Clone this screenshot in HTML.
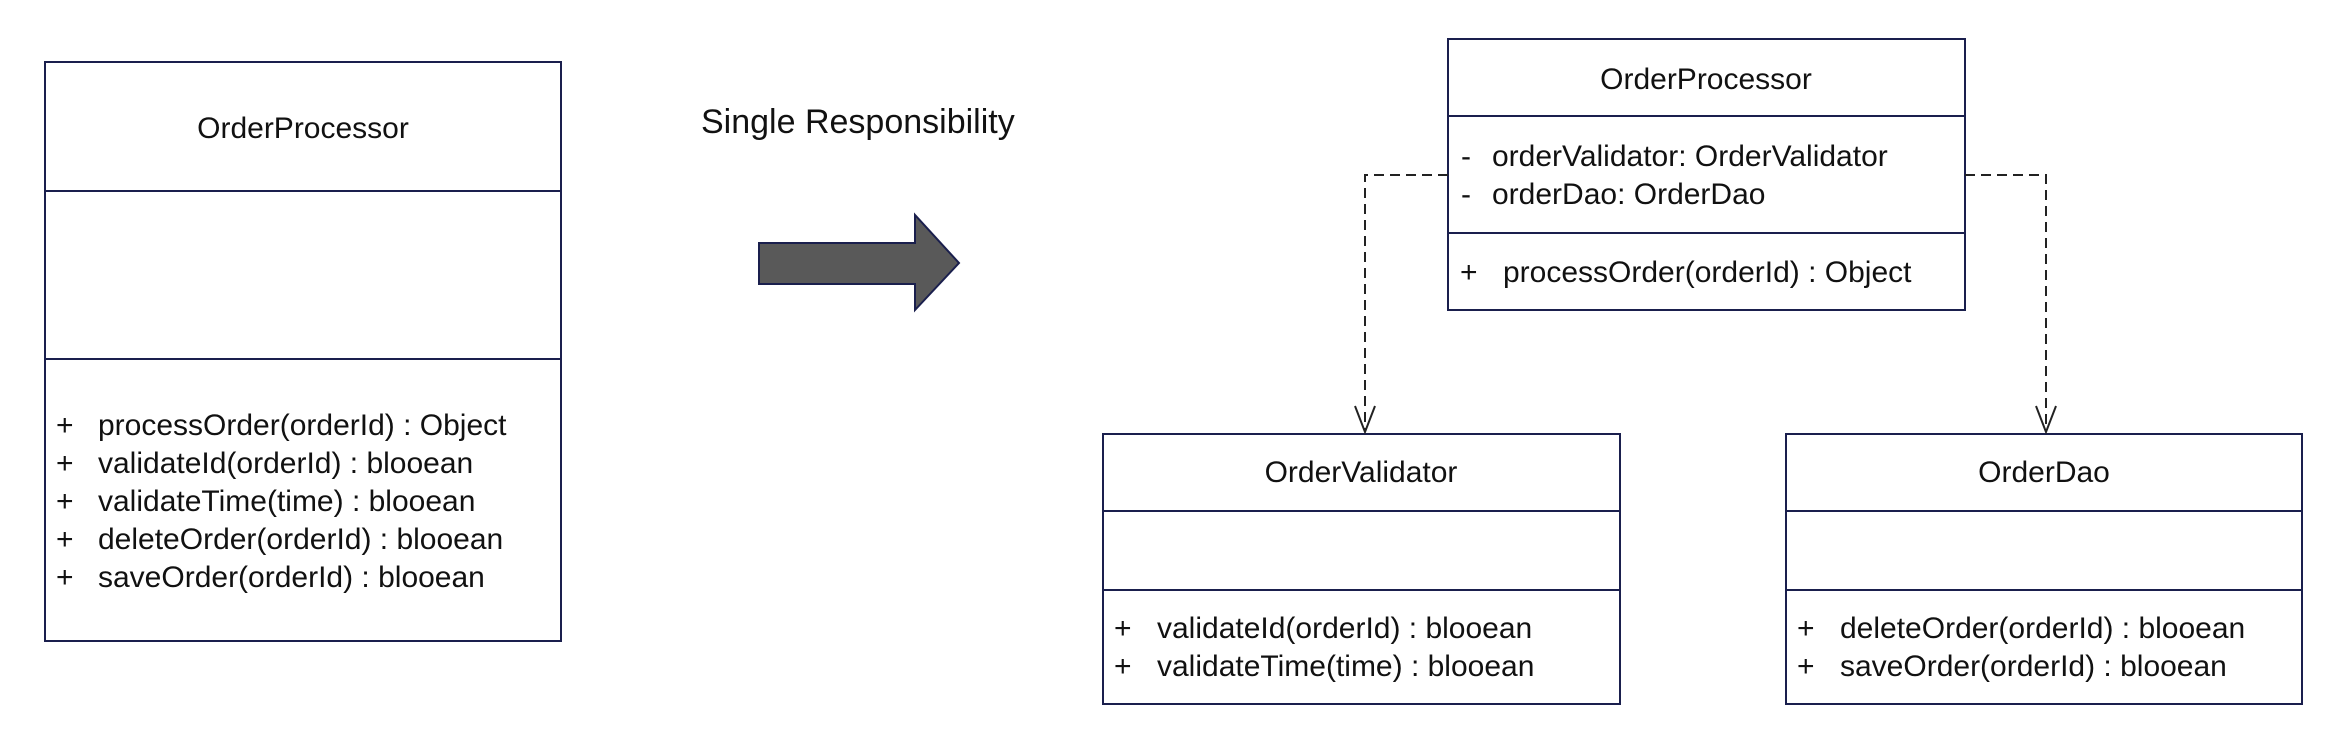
<!DOCTYPE html>
<html><head><style>
body{margin:0;background:#fff}
svg text{font-family:"Liberation Sans","Noto Sans CJK SC",sans-serif;font-size:30px;fill:#111}
</style></head><body>
<svg width="2328" height="750" xmlns="http://www.w3.org/2000/svg">
<g fill="#fff" stroke="#1a1f4d" stroke-width="2">
<rect x="45" y="62" width="516" height="579"/>
<line x1="45" y1="191" x2="561" y2="191"/>
<line x1="45" y1="359" x2="561" y2="359"/>
<rect x="1448" y="39" width="517" height="271"/>
<line x1="1448" y1="116" x2="1965" y2="116"/>
<line x1="1448" y1="233" x2="1965" y2="233"/>
<rect x="1103" y="434" width="517" height="270"/>
<line x1="1103" y1="511" x2="1620" y2="511"/>
<line x1="1103" y1="590" x2="1620" y2="590"/>
<rect x="1786" y="434" width="516" height="270"/>
<line x1="1786" y1="511" x2="2302" y2="511"/>
<line x1="1786" y1="590" x2="2302" y2="590"/>
</g>
<polygon points="759,243 915,243 915,215 959,263 915,310 915,284 759,284" fill="#595959" stroke="#1a1f4d" stroke-width="2"/>
<g fill="none" stroke="#222" stroke-width="2" stroke-dasharray="10,6">
<polyline points="1448,175 1365,175 1365,432"/>
<polyline points="1965,175 2046,175 2046,432"/>
</g>
<g fill="none" stroke="#222" stroke-width="2">
<polyline points="1355,406 1365,432 1375,406"/>
<polyline points="2036,406 2046,432 2056,406"/>
</g>
<text x="303" y="138" text-anchor="middle">OrderProcessor</text>
<text x="701" y="133" style="font-size:34px">Single Responsibility</text>
<g>
<text x="56" y="435">+</text><text x="98" y="435">processOrder(orderId) : Object</text>
<text x="56" y="473">+</text><text x="98" y="473">validateId(orderId) : blooean</text>
<text x="56" y="511">+</text><text x="98" y="511">validateTime(time) : blooean</text>
<text x="56" y="549">+</text><text x="98" y="549">deleteOrder(orderId) : blooean</text>
<text x="56" y="587">+</text><text x="98" y="587">saveOrder(orderId) : blooean</text>
</g>
<text x="1706" y="89" text-anchor="middle">OrderProcessor</text>
<text x="1461" y="166">-</text><text x="1492" y="166">orderValidator: OrderValidator</text>
<text x="1461" y="204">-</text><text x="1492" y="204">orderDao: OrderDao</text>
<text x="1460" y="282">+</text><text x="1503" y="282">processOrder(orderId) : Object</text>
<text x="1361" y="482" text-anchor="middle">OrderValidator</text>
<text x="1114" y="638">+</text><text x="1157" y="638">validateId(orderId) : blooean</text>
<text x="1114" y="676">+</text><text x="1157" y="676">validateTime(time) : blooean</text>
<text x="2044" y="482" text-anchor="middle">OrderDao</text>
<text x="1797" y="638">+</text><text x="1840" y="638">deleteOrder(orderId) : blooean</text>
<text x="1797" y="676">+</text><text x="1840" y="676">saveOrder(orderId) : blooean</text>
</svg>
</body></html>
